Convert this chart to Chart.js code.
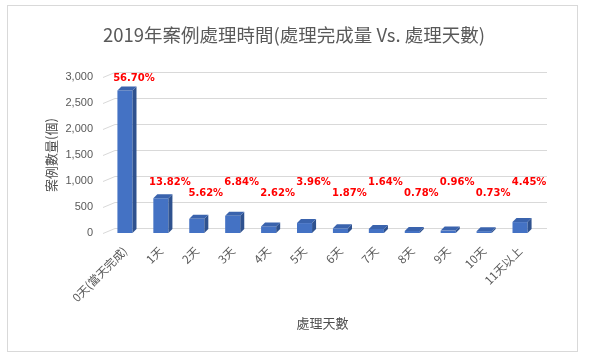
<!DOCTYPE html>
<html><head><meta charset="utf-8">
<script src="https://cdn.jsdelivr.net/npm/chart.js@4"></script>
<style>html,body{margin:0;padding:0;background:#fff}#wrap{width:590px;height:362px;position:relative}</style>
</head><body><div id="wrap"><canvas id="c" width="590" height="362"></canvas></div>
<script>
const categories = ['0天(當天完成)','1天','2天','3天','4天','5天','6天','7天','8天','9天','10天','11天以上'];
const caseCounts = [2740,668,272,331,127,191,90,79,38,46,35,210];
const percentLabels = ['56.70%','13.82%','5.62%','6.84%','2.62%','3.96%','1.87%','1.64%','0.78%','0.96%','0.73%','4.45%'];
const yTicks = [0,500,1000,1500,2000,2500,3000];
const labelLevels = [770, 975]; // alternating label heights (value units)

const DX = 4, DY = 4;
const CJK = '"Noto Sans CJK TC","Noto Sans CJK SC",sans-serif';

const deco = {
  id: 'deco',
  beforeDraw(chart) {
    const ctx = chart.ctx;
    ctx.save();
    ctx.fillStyle = '#fff';
    ctx.fillRect(0, 0, chart.width, chart.height);
    ctx.strokeStyle = '#d9d9d9';
    ctx.lineWidth = 1;
    ctx.strokeRect(7.5, 5.5, 570, 346);
    ctx.restore();
  },
  beforeDatasetsDraw(chart) {
    const {ctx, chartArea: a, scales: {y}} = chart;
    ctx.save();
    ctx.strokeStyle = '#d9d9d9';
    ctx.lineWidth = 1;
    yTicks.forEach(v => {
      const py = Math.round(y.getPixelForValue(v)) + 0.5;
      ctx.beginPath();
      ctx.moveTo(a.left - 4, py);
      ctx.lineTo(a.left + 8, py - 5);
      ctx.lineTo(a.right + 9, py - 5);
      ctx.stroke();
    });
    ctx.restore();
  },
  afterDatasetsDraw(chart) {
    const {ctx, scales: {y}} = chart;
    const meta = chart.getDatasetMeta(0);
    ctx.save();
    meta.data.forEach((bar, i) => {
      const p = bar.getProps(['x', 'y', 'base', 'width'], true);
      const l = p.x - p.width / 2, r = p.x + p.width / 2;
      ctx.fillStyle = '#2f528f';
      ctx.beginPath();
      ctx.moveTo(r, p.y); ctx.lineTo(r + DX, p.y - DY);
      ctx.lineTo(r + DX, p.base - DY); ctx.lineTo(r, p.base);
      ctx.closePath(); ctx.fill();
      ctx.fillStyle = '#3a63ad';
      ctx.beginPath();
      ctx.moveTo(l, p.y); ctx.lineTo(l + DX, p.y - DY);
      ctx.lineTo(r + DX, p.y - DY); ctx.lineTo(r, p.y);
      ctx.closePath(); ctx.fill();
      const lvl = y.getPixelForValue(labelLevels[i % 2]);
      const ly = Math.min(p.y - DY - 8, lvl);
      ctx.fillStyle = '#ff0000';
      ctx.font = 'bold 10px "DejaVu Sans", sans-serif';
      ctx.textAlign = 'center';
      ctx.textBaseline = 'middle';
      ctx.fillText(percentLabels[i], p.x + 9, ly);
    });
    ctx.restore();
  }
};

new Chart(document.getElementById('c'), {
  type: 'bar',
  data: {
    labels: categories,
    datasets: [{
      data: caseCounts,
      backgroundColor: '#4472c4',
      borderWidth: 0,
      barPercentage: 0.42,
      categoryPercentage: 1
    }]
  },
  options: {
    responsive: false,
    animation: false,
    devicePixelRatio: 1,
    layout: { padding: { left: 50, right: 52, top: 0, bottom: 20 } },
    plugins: {
      legend: { display: false },
      tooltip: { enabled: false },
      title: {
        display: true,
        text: '2019年案例處理時間(處理完成量 Vs. 處理天數)',
        color: '#595959',
        font: { family: CJK, size: 18.5, weight: 'normal', lineHeight: 1.2 },
        padding: { top: 24, bottom: 30.8 }
      }
    },
    scales: {
      x: {
        grid: { display: false, drawTicks: false },
        border: { display: false },
        ticks: {
          autoSkip: false, minRotation: 45, maxRotation: 45, padding: 11,
          color: '#595959', font: { family: CJK, size: 11.5 }
        },
        title: {
          display: true, text: '處理天數', color: '#505050',
          font: { family: CJK, size: 13, lineHeight: 1.2 },
          padding: { top: 4, bottom: 11 }
        },
        afterFit(s) { s.height = 362 - 20 - 233; }
      },
      y: {
        min: 0, max: 3000,
        grid: { display: false, drawTicks: false },
        border: { display: false },
        ticks: {
          stepSize: 500, padding: 14, color: '#595959',
          font: { family: '"Liberation Sans", Arial, sans-serif', size: 11 }
        },
        title: {
          display: true, text: '案例數量(個)', color: '#505050',
          font: { family: CJK, size: 13, lineHeight: 1.2 },
          padding: { top: -7, bottom: 0 }
        },
        afterFit(s) { s.width = 57; }
      }
    }
  },
  plugins: [deco]
});
</script>
</body></html>
